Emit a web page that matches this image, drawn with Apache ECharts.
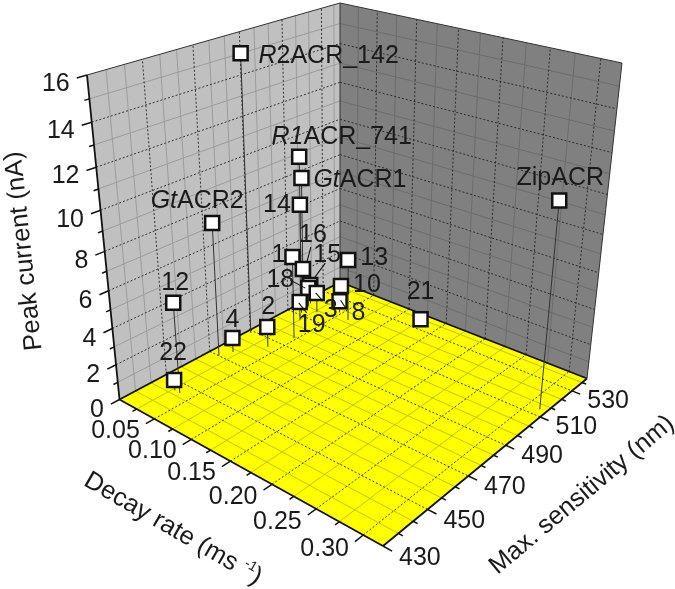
<!DOCTYPE html><html><head><meta charset="utf-8"><style>html,body{margin:0;background:#fff}#c{width:675px;height:589px}</style>
<script src="https://cdn.jsdelivr.net/npm/echarts@6/dist/echarts.min.js"></script></head><body><div id="c"></div><script>
// ---- data ----
var names=['R2ACR_142','R1ACR_741','GtACR1','14','ZipACR','GtACR2','12','22','4','2','13','1','16','15','18','10','8','3','19','21'];
var decayRate=[0.005,0.016,0.006,0.010,0.313,0.013,0.035,0.028,0.019,0.039,0.065,0.047,0.014,0.009,0.012,0.037,0.047,0.028,0.026,0.131];
var maxSensitivity=[488.6,511.6,516.3,513.8,513.7,470.2,445.3,445.3,475.0,485.4,518.6,496.0,513.4,519.2,517.0,525.8,521.0,515.6,507.0,532.9];
var peakCurrent=[15.10,9.26,7.76,6.40,10.85,7.57,5.06,0.61,0.86,1.23,3.74,4.87,2.64,1.20,1.19,1.24,0.73,1.25,1.17,0.38];
var zTicks=[0,2,4,6,8,10,12,14,16];
var decayTicks=[0.05,0.10,0.15,0.20,0.25,0.30];
var sensTicks=[430,450,470,490,510,530];
var dDomain=[0,0.32],sDomain=[430,540],zDomain=[0,16];
var zMinor=[1,3,5,7,9,11,13,15];
var decayMinor=[0.025,0.075,0.125,0.175,0.225,0.275];
var sensMinor=[436.67,443.33,456.67,463.33,476.67,483.33,496.67,503.33,516.67,523.33,536.67];

// ---- view: perspective frame of the box on the page ----
var floorC=[[119.5,399.5],[383,546],[587,378.5],[340,282]],topC=[[87,75],[390.7,176],[622,63],[340,3]],persp=-0.16;
function hom(p){var x0=p[0][0],y0=p[0][1],x1=p[1][0],y1=p[1][1],x2=p[2][0],y2=p[2][1],x3=p[3][0],y3=p[3][1];
 var dx1=x1-x2,dx2=x3-x2,dy1=y1-y2,dy2=y3-y2,sx=x0-x1+x2-x3,sy=y0-y1+y2-y3,den=dx1*dy2-dx2*dy1,g=(sx*dy2-dx2*sy)/den,h=(dx1*sy-sx*dy1)/den;
 return {a:x1-x0+g*x1,b:x3-x0+h*x3,c:x0,d:y1-y0+g*y1,e:y3-y0+h*y3,f:y0,g:g,h:h};}
var HF=hom(floorC),HT=hom(topC);
function ap(H,u,v){var w=H.g*u+H.h*v+1;return [(H.a*u+H.b*v+H.c)/w,(H.d*u+H.e*v+H.f)/w];}
function P(d,s,z){var u=(d-dDomain[0])/(dDomain[1]-dDomain[0]),v=(s-sDomain[0])/(sDomain[1]-sDomain[0]),t=(z-zDomain[0])/(zDomain[1]-zDomain[0]);
 var f=ap(HF,u,v),T=ap(HT,u,v),g=t*(1+persp)/(1+persp*t);return [f[0]+(T[0]-f[0])*g,f[1]+(T[1]-f[1])*g];}

// ---- segments ----
var D0=dDomain[0],D1=dDomain[1],S0=sDomain[0],S1=sDomain[1],Z0=zDomain[0],Z1=zDomain[1];
var LINE={dash:{stroke:'#222',lineWidth:0.9,lineDash:[2,2]},solidL:{stroke:'#9c9c9c',lineWidth:1},solidR:{stroke:'#6c6c6c',lineWidth:1},solidF:{stroke:'#c2c200',lineWidth:1},
 frame:{stroke:'#111',lineWidth:1.8},thin:{stroke:'#333',lineWidth:1},tick:{stroke:'#111',lineWidth:1.5},stem:{stroke:'#333',lineWidth:1},leader:{stroke:'#111',lineWidth:1.1}};
var gridSeg=[],tickSeg=[],frameSeg=[];
function seg(arr,a,b,k){arr.push([a[0],a[1],b[0],b[1],k]);}
zMinor.forEach(function(z){seg(gridSeg,P(D0,S0,z),P(D0,S1,z),'solidL');seg(gridSeg,P(D0,S1,z),P(D1,S1,z),'solidR');});
sensMinor.forEach(function(s){seg(gridSeg,P(D0,s,Z0),P(D0,s,Z1),'solidL');seg(gridSeg,P(D0,s,Z0),P(D1,s,Z0),'solidF');});
decayMinor.forEach(function(d){seg(gridSeg,P(d,S1,Z0),P(d,S1,Z1),'solidR');seg(gridSeg,P(d,S0,Z0),P(d,S1,Z0),'solidF');});
zTicks.slice(1,-1).forEach(function(z){seg(gridSeg,P(D0,S0,z),P(D0,S1,z),'dash');seg(gridSeg,P(D0,S1,z),P(D1,S1,z),'dash');});
sensTicks.slice(1).forEach(function(s){seg(gridSeg,P(D0,s,Z0),P(D0,s,Z1),'dash');seg(gridSeg,P(D0,s,Z0),P(D1,s,Z0),'dash');});
decayTicks.forEach(function(d){seg(gridSeg,P(d,S1,Z0),P(d,S1,Z1),'dash');seg(gridSeg,P(d,S0,Z0),P(d,S1,Z0),'dash');});
var tickZ=3.5,tickD=0.009;
zTicks.forEach(function(z){seg(tickSeg,P(D0,S0,z),P(D0,S0-tickZ,z),'tick');});
zMinor.forEach(function(z){seg(tickSeg,P(D0,S0,z),P(D0,S0-tickZ/2,z),'tick');});
decayTicks.forEach(function(d){seg(tickSeg,P(d,S0,Z0),P(d,S0-tickZ,Z0),'tick');});
decayMinor.forEach(function(d){seg(tickSeg,P(d,S0,Z0),P(d,S0-tickZ/2,Z0),'tick');});
sensTicks.forEach(function(s){seg(tickSeg,P(D1,s,Z0),P(D1+tickD,s,Z0),'tick');});
sensMinor.forEach(function(s){seg(tickSeg,P(D1,s,Z0),P(D1+tickD/2,s,Z0),'tick');});
seg(frameSeg,P(D0,S0,Z0),P(D1,S0,Z0),'frame');seg(frameSeg,P(D1,S0,Z0),P(D1,S1,Z0),'frame');
seg(frameSeg,P(D0,S0,Z0),P(D0,S1,Z0),'frame');seg(frameSeg,P(D0,S1,Z0),P(D1,S1,Z0),'frame');
seg(frameSeg,P(D0,S0,Z0),P(D0,S0,Z1),'frame');
seg(frameSeg,P(D0,S0,Z1),P(D0,S1,Z1),'thin');seg(frameSeg,P(D0,S1,Z1),P(D1,S1,Z1),'thin');
seg(frameSeg,P(D0,S1,Z0),P(D0,S1,Z1),'thin');seg(frameSeg,P(D1,S1,Z0),P(D1,S1,Z1),'thin');

var stemSeg=names.map(function(n,i){return [].concat(P(decayRate[i],maxSensitivity[i],Z0),P(decayRate[i],maxSensitivity[i],peakCurrent[i]),['stem']);});
var markers=names.map(function(n,i){return P(decayRate[i],maxSensitivity[i],peakCurrent[i]);});

// label placement relative to each marker
var labelOffset={'R2ACR_142':[88,3],'R1ACR_741':[42.5,-20],'GtACR1':[58.5,2],'14':[-23,0],'ZipACR':[1,-23],'GtACR2':[-15,-22],'12':[2,-20],'22':[-1,-27],'4':[0,-18],'2':[1,-20],'19':[12,23],'1':[-14,-2],'16':[10,-34],'15':[17,-30],'18':[-28,-8],'3':[14,17],'8':[19,12],'10':[26,-1],'13':[26,-2],'21':[0,-27]};
var richName={'R2ACR_142':'{i|R}2ACR_142','R1ACR_741':'{i|R1}ACR_741','GtACR1':'{i|Gt}ACR1','GtACR2':'{i|Gt}ACR2'};
var leaderOffset={'16':[8,-22,4,-7],'15':[15,-22,4,-7],'18':[-18,-8,-3,0],'19':[-1,1,7,11],'3':[-1,0,5,7],'8':[1,-1,7,8]};
var leaderSeg=[];names.forEach(function(n,i){var o=leaderOffset[n];if(o){var m=markers[i];leaderSeg.push([m[0]+o[0],m[1]+o[1],m[0]+o[2],m[1]+o[3],'leader']);}});

var FONT='"Liberation Sans",Arial,sans-serif',FS=25,INK='#1a1a1a';
var rich={i:{fontStyle:'italic',fontFamily:FONT,fontSize:FS,fill:INK,color:INK}};
// text rows: x,y,text,rotationDeg,align
var texts=[];
names.forEach(function(n,i){var m=markers[i],o=labelOffset[n];texts.push([m[0]+o[0],m[1]+o[1],richName[n]||n,0,'center']);});
zTicks.forEach(function(z){var b=P(D0,S0-tickZ,z);texts.push([b[0]-7,b[1]+6,String(z),0,'right']);});
decayTicks.forEach(function(d){var b=P(d,S0-tickZ,Z0);texts.push([b[0]-6,b[1]+7,d.toFixed(2),0,'right']);});
sensTicks.forEach(function(s){var b=P(D1+tickD,s,Z0);texts.push([b[0]+7,b[1]+7,String(s),0,'left']);});
texts.push([24,251,'Peak current (nA)',96,'center','t']);
texts.push([173,529,'Decay rate (ms {sup|-1})',-30,'center','t']);
texts.push([582,495,'Max. sensitivity (nm)',40,'center','t']);
rich.sup={fontFamily:FONT,fontSize:14,fill:INK,color:INK,verticalAlign:'top',lineHeight:28};

function segSeries(data,z){return {type:'custom',data:data,z:z,silent:true,clip:false,animation:false,encode:{x:0,y:1},
 renderItem:function(p,api){var a=api.coord([api.value(0),api.value(1)]),b=api.coord([api.value(2),api.value(3)]);
  return {type:'line',shape:{x1:a[0],y1:a[1],x2:b[0],y2:b[1]},style:LINE[data[p.dataIndex][4]]};}};}
var walls=[
 {pts:[P(D0,S0,Z0),P(D0,S1,Z0),P(D0,S1,Z1),P(D0,S0,Z1)],fill:'#c0c0c0'},
 {pts:[P(D0,S1,Z0),P(D1,S1,Z0),P(D1,S1,Z1),P(D0,S1,Z1)],fill:'#808080'},
 {pts:[P(D0,S0,Z0),P(D1,S0,Z0),P(D1,S1,Z0),P(D0,S1,Z0)],fill:'#ffff00'}];
var option={animation:false,backgroundColor:'#fff',
 grid:{left:0,right:0,top:0,bottom:0},
 xAxis:{type:'value',min:0,max:675,show:false},yAxis:{type:'value',min:0,max:589,inverse:true,show:false},
 series:[
  {type:'custom',z:1,silent:true,clip:false,data:walls.map(function(w,i){return [w.pts[0][0],w.pts[0][1],i];}),encode:{x:0,y:1},
   renderItem:function(p,api){var w=walls[p.dataIndex];return {type:'polygon',shape:{points:w.pts.map(function(q){return api.coord(q);})},style:{fill:w.fill}};}},
  segSeries(gridSeg,2),segSeries(frameSeg,3),segSeries(tickSeg,3),segSeries(stemSeg,4),
  {type:'scatter',z:5,silent:true,symbol:'rect',symbolSize:14,data:markers,itemStyle:{color:'#fff',borderColor:'#111',borderWidth:2.5,opacity:1}},
  segSeries(leaderSeg,6),
  {type:'custom',z:7,silent:true,clip:false,data:texts.map(function(t){return [t[0],t[1]];}),encode:{x:0,y:1},
   renderItem:function(p,api){var t=texts[p.dataIndex],c=api.coord([t[0],t[1]]);
    return {type:'text',x:c[0],y:c[1],rotation:t[3]*Math.PI/180,style:{text:t[2],fontFamily:FONT,fontSize:t[5]?25.5:FS,fill:INK,align:t[4],verticalAlign:'middle',rich:rich}};}}
 ]};
echarts.init(document.getElementById('c'),null,{renderer:'canvas'}).setOption(option);
</script></body></html>
